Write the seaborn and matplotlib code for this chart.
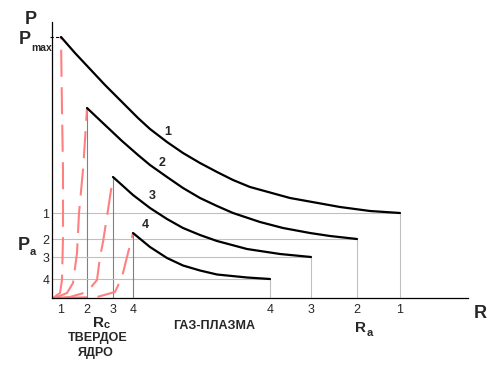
import matplotlib
matplotlib.use('Agg')
import matplotlib.pyplot as plt
import numpy as np
import pandas as pd
import seaborn as sns

# Радиусы ядра и атмосферы, давления (условные единицы)
Rc = [0.9, 3.5, 6.1, 8.1]
Ra = [34.8, 30.5, 25.9, 21.8]
Pmax = 26.1
Pa = [8.5, 5.9, 4.1, 1.9]
labels = ['1', '2', '3', '4']

# Кривые давления в газе-плазме (R, P)
gas_R = [
    [0.9, 2.3, 3.8, 5.3, 7.0, 8.6, 9.8, 11.5, 13.1, 14.8, 16.5, 18.1, 19.8, 23.8, 28.8, 31.8, 34.8],
    [3.5, 5.3, 7.0, 8.6, 9.8, 11.5, 13.1, 14.8, 16.5, 18.1, 20.8, 23.1, 25.8, 27.8, 30.5],
    [6.1, 8.1, 9.8, 11.5, 13.1, 14.8, 16.5, 19.5, 22.8, 25.9],
    [8.1, 9.8, 11.5, 13.1, 14.8, 16.5, 19.5, 21.8],
]
gas_P = [
    [26.1, 24.5, 22.9, 21.3, 19.6, 18.0, 16.9, 15.6, 14.5, 13.5, 12.6, 11.8, 11.1, 10.0, 9.1, 8.7, 8.5],
    [19.0, 17.3, 15.7, 14.3, 13.3, 12.1, 11.0, 10.0, 9.2, 8.5, 7.6, 7.0, 6.5, 6.2, 5.9],
    [12.1, 10.3, 9.0, 7.9, 7.0, 6.3, 5.7, 4.9, 4.4, 4.1],
    [6.5, 5.1, 4.0, 3.25, 2.75, 2.35, 2.05, 1.9],
]

# Кривые давления в твердом ядре
core_R = [
    [0.1, 0.8, 1.0, 1.1, 1.1, 1.1, 1.0, 0.9],
    [0.3, 1.5, 2.1, 2.5, 2.7, 3.1, 3.3, 3.5],
    [0.5, 1.8, 3.5, 4.5, 4.8, 5.1, 5.6, 6.1],
    [0.8, 4.5, 6.3, 7.0, 7.6, 8.1],
]
core_P = [
    [0.0, 0.5, 1.8, 6.1, 9.5, 12.8, 18.8, 26.1],
    [0.0, 0.5, 1.5, 4.5, 8.5, 12.8, 15.8, 19.0],
    [0.0, 0.1, 0.6, 1.8, 4.1, 5.6, 8.8, 12.1],
    [0.0, 0.1, 0.6, 2.1, 4.5, 6.5],
]

sns.set_style('white')
plt.rcParams['font.family'] = ['Liberation Sans', 'DejaVu Sans']

fig = plt.figure(figsize=(4.95, 3.67), dpi=100)
ax = fig.add_axes([52 / 495, 69 / 367, 416 / 495, 276 / 367])
ax.set_xlim(0, 41.6)
ax.set_ylim(0, 27.6)

# вспомогательные серые линии
for i in range(4):
    ax.plot([0, Ra[i]], [Pa[i], Pa[i]], color='#c0c0c0', lw=0.8, zorder=1)
    ax.plot([Ra[i], Ra[i]], [0, Pa[i]], color='#c0c0c0', lw=0.8, zorder=1)
    if i > 0:
        ax.plot([Rc[i], Rc[i]], [0, gas_P[i][0]], color='#808080', lw=0.8, zorder=1)

for i in range(4):
    df_core = pd.DataFrame({'R': core_R[i], 'P': core_P[i]})
    sns.lineplot(data=df_core, x='R', y='P', sort=False, estimator=None, ax=ax,
                 color='#ff8080', lw=1.5, dashes=(13, 5), zorder=2)
    df_gas = pd.DataFrame({'R': gas_R[i], 'P': gas_P[i]})
    sns.lineplot(data=df_gas, x='R', y='P', sort=False, estimator=None, ax=ax,
                 color='black', lw=1.6, zorder=3)

ax.plot([-0.2, Rc[0]], [Pmax, Pmax], color='black', lw=0.8, ls=(0, (3, 2)), clip_on=False)

# подписи кривых
lab_xy = [(11.6, 16.6), (11.0, 13.5), (10.0, 10.2), (9.3, 7.3)]
for (x, y), t in zip(lab_xy, labels):
    ax.text(x, y, t, fontsize=9, fontweight='bold', ha='center', va='center')

ax.set_xlabel('')
ax.set_ylabel('')
ax.set_xticks(Rc + Ra)
ax.set_xticklabels(labels + labels, fontsize=9)
ax.set_yticks(Pa)
ax.set_yticklabels(labels, fontsize=9)
ax.tick_params(length=0)
ax.tick_params(axis='x', pad=4)
ax.tick_params(axis='y', pad=2)

for s in ['top', 'right']:
    ax.spines[s].set_visible(False)
for s in ['left', 'bottom']:
    ax.spines[s].set_color('black')
    ax.spines[s].set_linewidth(0.9)

kw = dict(fontweight='bold', ha='center', va='center', clip_on=False)
ax.text(-2.1, 27.8, 'P', fontsize=13, **kw)
ax.text(-2.7, 25.8, 'P', fontsize=13, **kw)
ax.text(-1.0, 25.0, 'max', fontsize=7.5, **kw)
ax.text(-2.8, 5.2, 'P', fontsize=13, **kw)
ax.text(-1.9, 4.6, 'a', fontsize=8, **kw)
ax.text(4.6, -2.5, 'R', fontsize=11, **kw)
ax.text(5.5, -2.7, 'c', fontsize=8, **kw)
ax.text(4.6, -4.0, 'ТВЕРДОЕ', fontsize=9, **kw)
ax.text(4.4, -5.5, 'ЯДРО', fontsize=9, **kw)
ax.text(16.2, -2.8, 'ГАЗ-ПЛАЗМА', fontsize=9, **kw)
ax.text(30.8, -3.0, 'R', fontsize=11, **kw)
ax.text(31.8, -3.5, 'a', fontsize=8, **kw)
ax.text(42.8, -1.5, 'R', fontsize=13, **kw)

fig.savefig('out.png', dpi=100)
